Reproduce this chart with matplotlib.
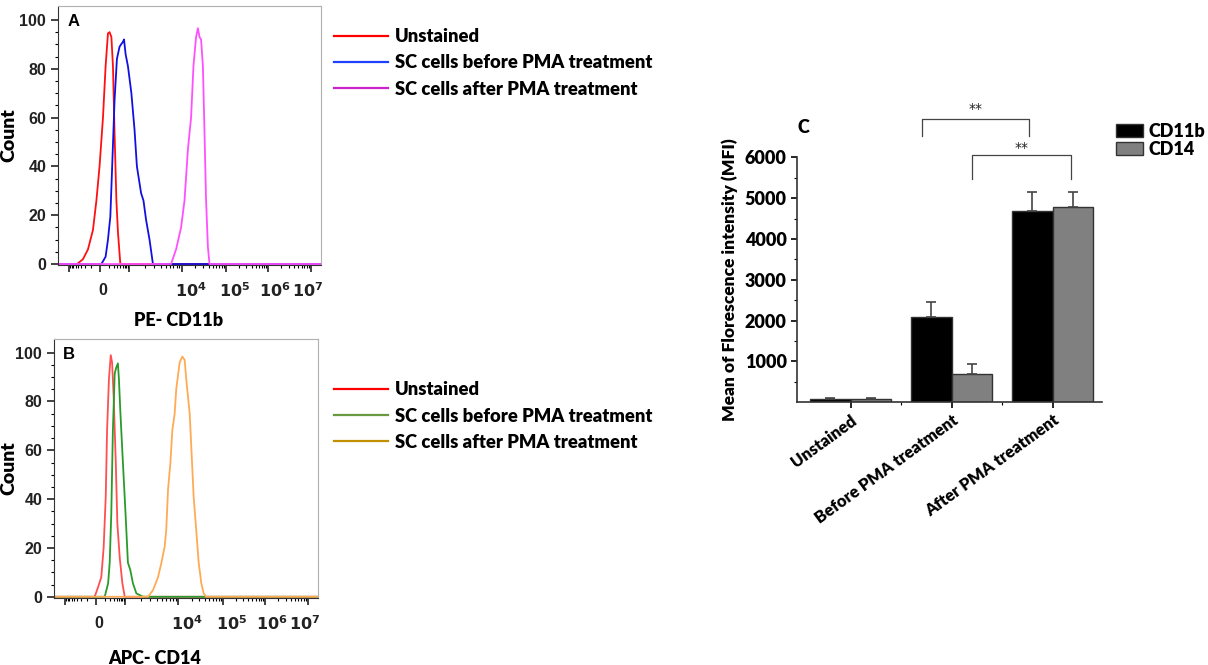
import numpy as np
import matplotlib.pyplot as plt
from matplotlib.lines import Line2D
from matplotlib.patches import Patch
from matplotlib.transforms import blended_transform_factory

# ---- flow histograms (x in display channels 0..1000, y = count) ----
a_unst_x = [0, 73, 95, 114, 133, 146, 158, 171, 181, 190, 196, 203, 209, 215, 222, 228, 237, 1000]
a_unst_y = [0, 0, 2, 6, 14, 26, 40, 60, 81, 94.5, 95, 93, 81, 54, 26, 13, 0, 0]
a_before_x = [0, 165, 181, 190, 199, 206, 215, 224, 234, 240, 247, 251, 257, 266, 279, 291, 300, 316,
              325, 335, 348, 361, 1000]
a_before_y = [0, 0, 3, 10, 19.5, 40, 67, 84, 89, 90, 91, 92, 86, 81, 70, 55, 40, 29, 26, 18, 10, 0, 0]
a_after_x = [0, 430, 449, 468, 481, 494, 506, 515, 525, 532, 538, 544, 551, 557, 563, 570, 576, 1000]
a_after_y = [0, 0, 6, 15, 26, 47, 60, 81, 93, 96.6, 93, 92, 81, 54, 26, 7, 0, 0]

b_unst_x = [0, 154, 167, 179, 188, 196, 201, 208, 215, 220, 226, 234, 240, 249, 259, 268, 1000]
b_unst_y = [0, 0, 4, 8, 20, 41, 68, 89, 99, 96, 82, 55, 30, 16, 5.5, 0, 0]
b_before_x = [0, 192, 205, 211, 217, 223, 230, 236, 242, 246, 251, 261, 271, 280, 289, 299, 312, 337, 1000]
b_before_y = [0, 0, 5.5, 14, 34, 68, 91.5, 94, 95.6, 89, 76.5, 55, 34, 14, 11, 5.5, 1.4, 0, 0]
b_after_x = [0, 356, 375, 394, 407, 419, 425, 432, 441, 448, 457, 463, 476, 486, 495, 501, 514, 520,
             529, 539, 548, 558, 567, 576, 1000]
b_after_y = [0, 0, 2.7, 8, 14, 20.5, 27, 44, 55, 68, 75, 85, 96, 98.4, 97, 89, 75, 61.5, 41, 27, 14,
             5.5, 1.4, 0, 0]

flow_major = [40, 160, 270, 470, 640, 800, 962]
flow_labels = ['0', r'$\mathbf{10^4}$', r'$\mathbf{10^5}$', r'$\mathbf{10^6}$', r'$\mathbf{10^7}$']
flow_label_pos = [170, 505, 672, 825, 950]
legend_labels = ['Unstained', 'SC cells before PMA treatment', 'SC cells after PMA treatment']

# ---- MFI bar chart ----
groups = ['Unstained', 'Before PMA treatment', 'After PMA treatment']
cd11b = [90, 2100, 4690]
cd11b_err = [20, 365, 450]
cd14 = [90, 690, 4780]
cd14_err = [20, 245, 360]
sig_y = [6930, 6050]
sig_leg = [6520, 5460]

W, H = 1208, 665
fig = plt.figure(figsize=(W / 100, H / 100), dpi=100)


def box(l, t, r, b):
    return [l / W, 1 - b / H, (r - l) / W, (b - t) / H]


flow_font = 'Liberation Sans'
lab_font = 'Lato'
lab_weight = 'heavy'


def flow_panel(ax, curves, colors, letter, xlabel, ylim, xlab_x, xlab_y):
    for (x, y), c in zip(curves, colors):
        ax.plot(x, y, color=c, lw=1.3)
    ax.set_xlim(0, 1000)
    ax.set_ylim(*ylim)
    ax.set_yticks([0, 20, 40, 60, 80, 100])
    ax.set_yticks(np.arange(0, 101, 5), minor=True)
    ax.set_xticks(flow_major)
    ax.set_xticklabels([])
    minor = []
    for a, b in zip(flow_major[2:-1], flow_major[3:]):
        minor += [a + (b - a) * np.log10(k) for k in range(2, 10)]
    minor += [160 - 120 * np.log10(k) for k in range(2, 10)]
    minor += [160 + 110 * np.log10(k) for k in range(2, 10)]
    ax.set_xticks(minor, minor=True)
    ax.tick_params(axis='both', which='major', direction='out', length=5, width=1.2,
                   labelsize=11.5, colors='#222222')
    ax.tick_params(axis='both', which='minor', direction='out', length=2.5, width=0.8)
    for lab in ax.get_yticklabels():
        lab.set_fontweight('bold')
        lab.set_family(flow_font)
    for s in ['top', 'right']:
        ax.spines[s].set_color('#b0b0b0')
    for s in ['left', 'bottom']:
        ax.spines[s].set_color('#333333')
    for p, t in zip(flow_label_pos, flow_labels):
        ax.text(p, -0.1, t, transform=ax.get_xaxis_transform(), ha='center', va='center',
                fontsize=11.5, fontweight='bold', family=flow_font, color='#222222')
    ax.text(0.035, 0.94, letter, transform=ax.transAxes, ha='left', va='center',
            fontsize=12, fontweight='bold', family=flow_font)
    ax.set_ylabel('Count', fontsize=14, fontweight=lab_weight, family=lab_font)
    ax.yaxis.set_label_coords(17 / W, 0.5)
    ax.yaxis.label.set_transform(blended_transform_factory(fig.transFigure, ax.transAxes))
    ax.set_xlabel(xlabel, fontsize=13, fontweight=lab_weight, family=lab_font)
    ax.xaxis.set_label_coords(xlab_x, xlab_y)


axA = fig.add_axes(box(58, 6, 321, 265))
flow_panel(axA, [(a_unst_x, a_unst_y), (a_before_x, a_before_y), (a_after_x, a_after_y)],
           ['#ff1010', '#1010e0', '#ff50ff'], 'A', 'PE- CD11b', (-0.4, 105.7), 0.46, -0.18)
axB = fig.add_axes(box(54, 339, 318, 598))
flow_panel(axB, [(b_unst_x, b_unst_y), (b_before_x, b_before_y), (b_after_x, b_after_y)],
           ['#ff5050', '#2a9a2a', '#ffaa55'], 'B', 'APC- CD14', (-0.5, 105.6), 0.38, -0.2)

for top, cols in [(21, ['#ff0000', '#2040ff', '#cc22cc']), (374, ['#ff0000', '#6a9a40', '#c09000'])]:
    handles = [Line2D([0], [0], color=c, lw=1.6) for c in cols]
    fig.legend(handles, legend_labels, loc='upper left', bbox_to_anchor=(327 / W, 1 - top / H),
               frameon=False, handlelength=2.9, handletextpad=0.4, labelspacing=0.5,
               prop={'family': lab_font, 'weight': lab_weight, 'size': 13.2}, borderaxespad=0)

# ---- panel C ----
axC = fig.add_axes(box(797, 157.3, 1102, 402.3))
x = np.arange(len(groups))
w = 0.4
axC.bar(x - w / 2, cd11b, w, color='black', edgecolor='#333333', lw=1)
axC.bar(x + w / 2, cd14, w, color='#808080', edgecolor='#333333', lw=1)
axC.errorbar(x - w / 2, cd11b, yerr=[np.zeros(3), cd11b_err], fmt='none', ecolor='#444444',
             elinewidth=1.2, capsize=3.5, capthick=1.2)
axC.errorbar(x + w / 2, cd14, yerr=[np.zeros(3), cd14_err], fmt='none', ecolor='#444444',
             elinewidth=1.2, capsize=3.5, capthick=1.2)
axC.set_xlim(-0.53, 2.49)
axC.set_ylim(0, 6000)
axC.set_yticks([1000, 2000, 3000, 4000, 5000, 6000])
axC.set_yticks(np.arange(500, 6001, 500), minor=True)
axC.set_xticks(x)
axC.set_xticks([0.5, 1.5], minor=True)
axC.set_xticklabels(groups, rotation=36, ha='right', rotation_mode='anchor')
for s in ['top', 'right']:
    axC.spines[s].set_visible(False)
for s in ['left', 'bottom']:
    axC.spines[s].set_color('#333333')
    axC.spines[s].set_linewidth(1.2)
axC.tick_params(axis='both', which='major', direction='out', length=4, width=1.2, labelsize=13)
axC.tick_params(axis='both', which='minor', direction='out', length=2.5, width=0.8)
axC.tick_params(axis='x', pad=3)
for lab in axC.get_xticklabels() + axC.get_yticklabels():
    lab.set_fontweight(lab_weight)
    lab.set_family(lab_font)
for lab in axC.get_xticklabels():
    lab.set_fontsize(12)
axC.set_ylabel('Mean of Florescence intensity (MFI)', fontsize=12.5, fontweight=lab_weight,
               family=lab_font, labelpad=5)
axC.text(0.0, 1.12, 'C', transform=axC.transAxes, fontsize=13, fontweight=lab_weight,
         family=lab_font, va='center')

pairs = [(x[1] - 0.29, x[2] - 0.23), (x[1] + w / 2, x[2] + 0.18)]
for (x0, x1), yt, yl, dy in zip(pairs, sig_y, sig_leg, [250, 170]):
    axC.plot([x0, x0, x1, x1], [yl, yt, yt, yl], color='#444444', lw=0.9, clip_on=False)
    axC.text((x0 + x1) / 2, yt + dy, '**', ha='center', va='center', fontsize=10,
             color='#222222', clip_on=False)

fig.legend([Patch(facecolor='black', edgecolor='#333333'), Patch(facecolor='#808080', edgecolor='#333333')],
           ['CD11b', 'CD14'], loc='upper left', bbox_to_anchor=(1116 / W, 1 - 123 / H),
           frameon=False, handlelength=1.5, handleheight=0.75, handletextpad=0.3, labelspacing=0.05,
           borderpad=0, prop={'family': lab_font, 'weight': lab_weight, 'size': 13}, borderaxespad=0)

fig.savefig('out.png', dpi=100)
